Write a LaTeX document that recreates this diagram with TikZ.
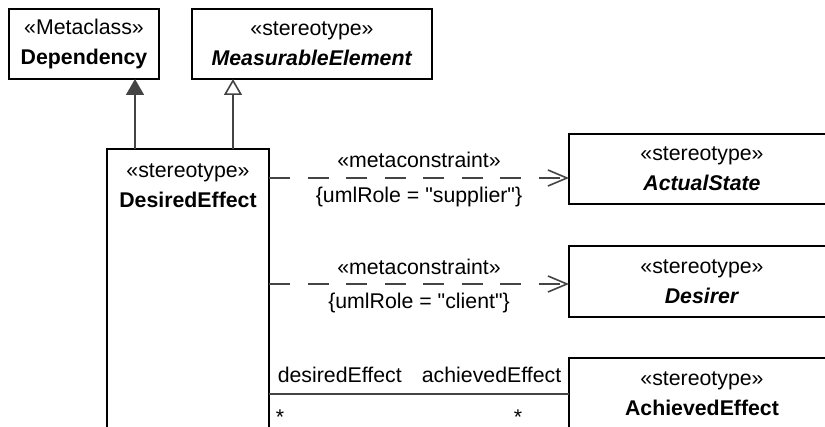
\documentclass[tikz,border=0pt]{standalone}
\usepackage{fontspec}
\setmainfont{Liberation Sans}
\usetikzlibrary{arrows.meta}

\definecolor{linegray}{HTML}{444444}
\newcommand{\umlfont}{\fontsize{21.3}{30}\selectfont}

\begin{document}
\begin{tikzpicture}[x=1pt,y=-1pt,>=Stealth,
  classbox/.style={draw=black,line width=1.8pt,align=center,inner sep=0pt,outer sep=0pt,font=\umlfont},
  rolelabel/.style={font=\umlfont,inner sep=0pt},
  genline/.style={draw=linegray,line width=1.6pt},
  depline/.style={draw=linegray,line width=1.6pt,dash pattern=on 21pt off 17.5pt,
    -{Straight Barb[length=19pt,width=16pt]}},
  assocline/.style={draw=linegray,line width=1.6pt}]

\useasboundingbox (0,0) rectangle (825,427);
\clip (0,0) rectangle (825,427);

% ----- classes on top -----
\node[classbox,minimum width=150pt,minimum height=70pt] (dep) at (84,44)
  {«Metaclass»\\\textbf{Dependency}};
\node[classbox,minimum width=240pt,minimum height=70pt] (meas) at (312,44)
  {«stereotype»\\\textbf{\textit{MeasurableElement}}};

% ----- main stereotype (runs off the bottom) -----
\node[classbox,minimum width=162pt,minimum height=320pt,
  label={[rolelabel,align=center,anchor=center,yshift=-37pt,label distance=0pt]north:{«stereotype»\\\textbf{DesiredEffect}}}]
  (desired) at (188,309) {};

% ----- stereotypes on the right (run off the right edge) -----
\node[classbox,minimum width=266pt,minimum height=70pt] (actual) at (702,169)
  {«stereotype»\\\textbf{\textit{ActualState}}};
\node[classbox,minimum width=266pt,minimum height=71pt] (desirer) at (702,281.5)
  {«stereotype»\\\textbf{\textit{Desirer}}};
\node[classbox,minimum width=266pt,minimum height=72pt] (achieved) at (702,394)
  {«stereotype»\\\textbf{AchievedEffect}};

% generalizations
\coordinate (genA) at ([xshift=28pt]desired.north west);
\coordinate (genB) at ([xshift=126pt]desired.north west);
\draw[genline,-{Triangle[length=16pt,width=18pt]}] (genA) -- (genA |- dep.south);
\draw[genline,-{Triangle[open,length=16pt,width=18pt,fill=white]}] (genB) -- (genB |- meas.south);

% metaconstraints
\coordinate (supA) at ([yshift=-9pt]actual.west);
\coordinate (cliA) at ([yshift=-2.5pt]desirer.west);
\draw[depline] (supA -| desired.east) -- (supA)
  node[rolelabel,midway,yshift=18pt] (supstereo) {«metaconstraint»}
  node[rolelabel,midway,yshift=-19pt] (suprole) {\{umlRole = \textquotedbl supplier\textquotedbl\}};
\draw[depline] (cliA -| desired.east) -- (cliA)
  node[rolelabel,midway,yshift=17pt] (clistereo) {«metaconstraint»}
  node[rolelabel,midway,yshift=-19pt] (clirole) {\{umlRole = \textquotedbl client\textquotedbl\}};

% association with role names
\draw[assocline] (desired.east |- achieved.west) -- (achieved.west)
  node[rolelabel,pos=0,anchor=west,xshift=8pt,yshift=19pt] (roleA) {desiredEffect}
  node[rolelabel,pos=1,anchor=east,xshift=-7pt,yshift=19pt] (roleB) {achievedEffect}
  node[rolelabel,pos=0,xshift=11pt,yshift=-23pt] (multA) {*}
  node[rolelabel,pos=1,xshift=-51pt,yshift=-23pt] (multB) {*};

\end{tikzpicture}
\end{document}
